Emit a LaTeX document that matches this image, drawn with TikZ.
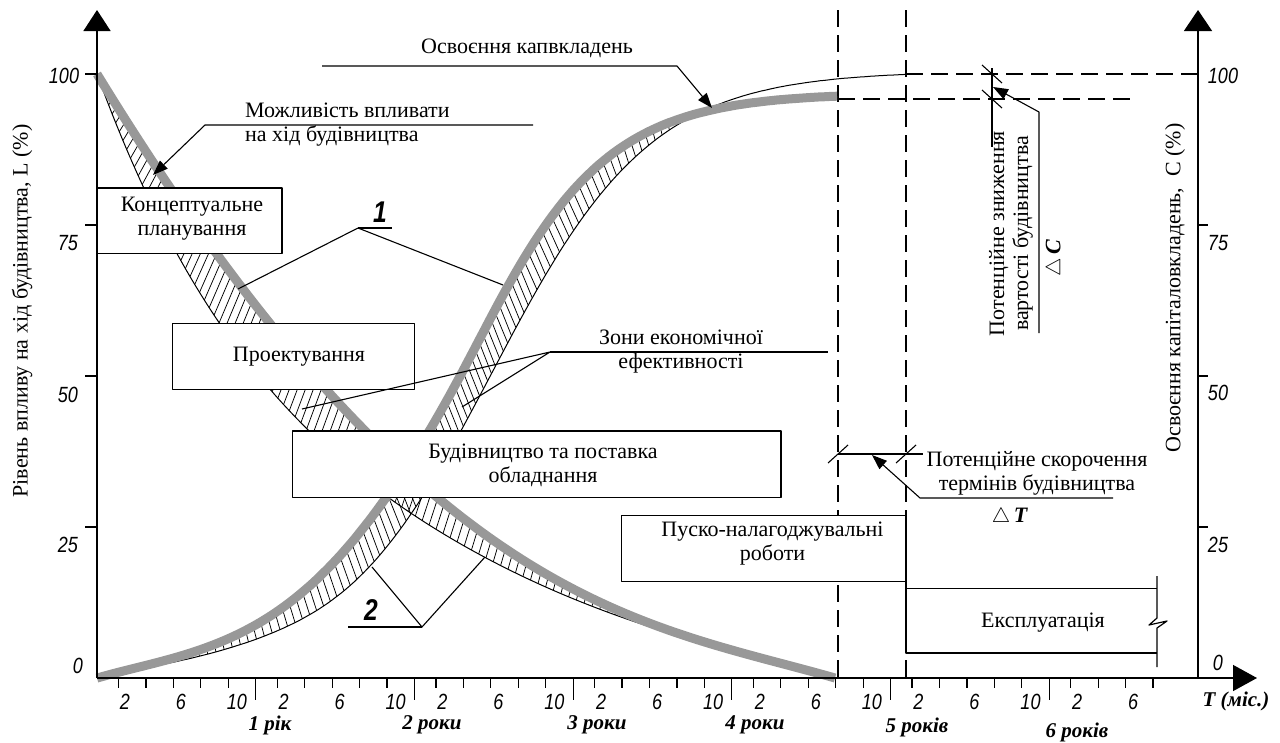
\documentclass[tikz,border=0pt]{standalone}
\usepackage{fontspec}
\setmainfont{Liberation Serif}
\newfontfamily\cadfont[FakeStretch=0.82]{Liberation Sans}
\usetikzlibrary{arrows.meta}
\definecolor{curvegray}{RGB}{152,152,152}

\newcommand\txtsize{\fontsize{22}{24}\selectfont}
\newcommand\axnumfont{\cadfont\itshape\fontsize{22}{24}\selectfont}
\newcommand\yrfont{\fontsize{21}{24}\selectfont\bfseries\itshape}
\newcommand\bignumfont{\cadfont\bfseries\itshape\fontsize{30}{32}\selectfont}

% ladder hatching between a grey curve #1 and a thin curve #2, x from #3 to #4
\newcommand\hatchstrip[4]{%
  \def\hx{#3}%
  \loop
    \pgfmathsetmacro\hm{#1(\hx+0.5)-#1(\hx-0.5)}%
    \pgfmathsetmacro\hv{#1(\hx)-#2(\hx)}%
    \ifdim\hv pt>1pt
      \pgfmathsetmacro\hs{0.55*(\hm)*(\hv)/(1+(\hm)*(\hm))}%
      \draw[hatchline] (\hx,{678-#1(\hx)}) -- ({\hx+\hs},{678-#2(\hx+\hs)});%
    \fi
    \pgfmathsetmacro\hx{\hx+8.5/sqrt(1+(\hm)*(\hm))}%
  \ifdim\hx pt<#4pt
  \repeat}

\begin{document}
\begin{tikzpicture}[x=1pt,y=-1pt,line join=round,
  declare function={
    lgs(\z)=1/(1+exp(min(max(-1*(\z),-9),9)));
    thh(\z)=2*lgs(2*(\z))-1;
    ulv(\x)=min(max((\x-97)/738,0),1);
    glv(\x)=604*(1-ulv(\x))*((1-ulv(\x))+0.35*ulv(\x)^4);
    tlv(\x)=glv(\x)*(1-1.35*ulv(\x)*(1-ulv(\x))*(1-ulv(\x)));
    kgr(\x)=0.0126+0.0011*thh((\x-455)/60);
    gcv(\x)=585*lgs(kgr(\x)*(\x-455))-9.4*exp(max(-1*(\x-97)/50,-9));
    kth(\x)=0.0125-0.00075*(1-thh((\x-300)/80));
    tcv(\x)=607*lgs(kth(\x)*(\x-491))-7.8*exp(max(-1*(\x-97)/50,-9));
  },
  axisline/.style={line width=1.4pt},
  tickline/.style={line width=1.2pt},
  frame/.style={draw,line width=1.2pt,fill=white,inner sep=0pt},
  boxline/.style={line width=1.2pt},
  leader/.style={line width=1.1pt},
  thincurve/.style={line width=1pt},
  graycurve/.style={line width=9pt,color=curvegray},
  hatchline/.style={line width=0.75pt},
  dashline/.style={line width=1.1pt,dash pattern=on 17pt off 8pt},
  tip/.style={-{Triangle[length=15pt,width=11pt]}},
  txt/.style={font=\txtsize,align=center,inner sep=0pt},
  axnum/.style={font=\axnumfont,inner sep=0pt},
  yrlbl/.style={font=\yrfont,inner sep=0pt},
  bignum/.style={font=\bignumfont,inner sep=0pt},
]
\useasboundingbox (0,0) rectangle (1280,742);

% dashed guide lines
\coordinate (d1top) at (838,10);  \coordinate (d1bot) at (838,678);
\coordinate (d2top) at (906,10);  \coordinate (d2bot) at (906,678);
\draw[dashline] (d1top) -- (d1bot);
\draw[dashline] (d2top) -- (d2bot);
\coordinate (full0) at (906,74);  \coordinate (full1) at (1198,74);
\coordinate (real0) at (838,99);  \coordinate (real1) at (1130,99);
\draw[dashline] (full0) -- (full1);
\draw[dashline] (real0) -- (real1);

% hatched zones between the curves
\hatchstrip{glv}{tlv}{97}{832}
\hatchstrip{gcv}{tcv}{100}{730}

% thin (baseline) curves
\draw[thincurve] plot[domain=97:835,samples=150] (\x,{678-tlv(\x)});
\coordinate (tailA) at (835,677); \coordinate (tailB) at (897,677);
\draw[thincurve] (tailA) -- (tailB);
\draw[thincurve] plot[domain=97:906,samples=180] (\x,{678-tcv(\x)});

% grey (improved) curves
\draw[graycurve] plot[domain=97:835,samples=150] (\x,{678-glv(\x)});
\draw[graycurve] plot[domain=97:837,samples=150] (\x,{678-gcv(\x)});

% stage boxes
\node[frame,minimum width=185pt,minimum height=65.5pt] (konc) at (189.5,220.75) {};
\node[txt] (konct) at (192,219) {Концептуальне\\планування};
\node[frame,minimum width=241.6pt,minimum height=66pt] (proj) at (293.5,356.3) {};
\node[txt] (projt) at (299,357) {Проектування};
\node[frame,minimum width=488.3pt,minimum height=66.3pt] (build) at (536.85,464.15) {};
\node[txt] (buildt) at (543,465) {Будівництво та поставка\\обладнання};
\node[frame,minimum width=284.3pt,minimum height=66pt] (pusk) at (763.85,548.7) {};
\node[txt] (puskt) at (772.5,543.5) {Пуско-налагоджувальні\\роботи};
\coordinate (ek1) at (906,515.7); \coordinate (ek2) at (906,653);
\coordinate (ek3) at (1157,653);  \coordinate (ek4) at (906,588.3);
\coordinate (ek5) at (1157,588.3);
\coordinate (ekb0) at (1157,576); \coordinate (ekb1) at (1157,667);
\draw[boxline] (ek1) -- (ek2) -- (ek3);
\draw[boxline] (ek4) -- (ek5);
\draw[boxline] (ekb0) -- (1157,618) -- (1149,625) -- (1167,621) -- (1157,628) -- (ekb1);
\node[txt] (ekt) at (1043,623) {Експлуатація};

% axes
\coordinate (O) at (97,678);    \coordinate (Ltop) at (97,10);
\coordinate (R0) at (1198,678); \coordinate (Rtop) at (1198,10);
\coordinate (Xend) at (1257,678);
\draw[axisline,-{Triangle[length=21pt,width=27pt]}] (O) -- (Ltop);
\draw[axisline,-{Triangle[length=21pt,width=28pt]}] (R0) -- (Rtop);
\draw[axisline,-{Triangle[length=24pt,width=26pt]}] (O) -- (Xend);

% vertical scale ticks and numbers
\foreach \yv in {74,225,376,527} \draw[tickline] (85,\yv) -- (97,\yv);
\foreach \yv in {225,376,527} \draw[tickline] (1198,\yv) -- (1208,\yv);
\node[axnum] at (64,76) {100};
\node[axnum] at (68,243) {75};
\node[axnum] at (68,395) {50};
\node[axnum] at (68,545) {25};
\node[axnum] at (78,666) {0};
\node[axnum] at (1223,76) {100};
\node[axnum] at (1218,243) {75};
\node[axnum] at (1218,393) {50};
\node[axnum] at (1218,545) {25};
\node[axnum] at (1218,663) {0};

% time scale
\foreach \Y/\kmax in {0/4,1/4,2/4,3/4,4/4,5/4,6/3} {
  \pgfmathsetmacro\ys{97+158.7*\Y}
  \foreach \k in {0,...,\kmax} \draw[tickline] ({\ys+21.5+27.45*\k},678) -- ({\ys+21.5+27.45*\k},688);
}
\foreach \Y in {1,...,6} \draw[tickline] ({97+158.7*\Y},678) -- ({97+158.7*\Y},700);
\foreach \Y in {0,...,5} {
  \pgfmathsetmacro\ys{97+158.7*\Y}
  \node[axnum] at ({\ys+28},702) {2};
  \node[axnum] at ({\ys+84},702) {6};
  \node[axnum] at ({\ys+140},702) {10};
}
\node[axnum] at ({97+158.7*6+28},702) {2};
\node[axnum] at ({97+158.7*6+84},702) {6};
\node[yrlbl] at (270,725) {1 рік};
\node[yrlbl] at (432,725) {2 роки};
\node[yrlbl] at (597,725) {3 роки};
\node[yrlbl] at (755,725) {4 роки};
\node[yrlbl] at (917,727) {5 років};
\node[yrlbl] at (1077,732) {6 років};
\node[yrlbl] at (1236,701) {T (міс.)};

% axis titles
\node[txt,rotate=90] at (22,311) {Рівень впливу на хід будівництва, L (\%)};
\node[txt,rotate=90] at (1175,288) {Освоєння капіталовкладень,\ \ С (\%)};

% callout: influence curve
\coordinate (mozA) at (533,125); \coordinate (mozB) at (205,125); \coordinate (mozT) at (153,175);
\draw[leader,tip] (mozA) -- (mozB) -- (mozT);
\node[txt,anchor=west,align=left] at (245,125) {Можливість впливати\\на хід будівництва};

% callout: investment curve
\coordinate (osvA) at (322,66); \coordinate (osvB) at (677,66); \coordinate (osvT) at (712,108);
\draw[leader,tip] (osvA) -- (osvB) -- (osvT);
\node[txt] at (527,48) {Освоєння капвкладень};

% callout 1
\coordinate (oneV) at (358,228); \coordinate (oneU) at (392,228);
\coordinate (oneA) at (238,289); \coordinate (oneB) at (503,285);
\draw[leader] (oneA) -- (oneV) -- (oneB);
\draw[leader] (oneV) -- (oneU);
\node[bignum] at (380,212) {1};

% callout 2
\coordinate (twoV) at (422,627); \coordinate (twoU) at (348,627);
\coordinate (twoA) at (372,567); \coordinate (twoB) at (485,557);
\draw[leader] (twoA) -- (twoV) -- (twoB);
\draw[leader] (twoV) -- (twoU);
\node[bignum] at (371,610) {2};

% callout: zones of efficiency
\coordinate (zonV) at (550,352); \coordinate (zonE) at (828,352);
\coordinate (zonA) at (302,409); \coordinate (zonB) at (462,407);
\draw[leader] (zonA) -- (zonV) -- (zonB);
\draw[leader] (zonV) -- (zonE);
\node[txt] at (681,351.5) {Зони економічної\\ефективності};

% time reduction dimension
\coordinate (dtA) at (838,454); \coordinate (dtB) at (923,454);
\draw[leader] (dtA) -- (dtB);
\draw[leader] (828,463) -- (848,445);
\draw[leader] (896,463) -- (916,445);
\coordinate (dtS1) at (1113,498); \coordinate (dtS0) at (920,498); \coordinate (dtT) at (872,455);
\draw[leader,tip] (dtS1) -- (dtS0) -- (dtT);
\node[txt] at (1037,473.5) {Потенційне скорочення\\термінів будівництва};
\node[txt] at (1010,517) {$\triangle$\,\textbf{\textit{T}}};

% cost reduction dimension
\coordinate (dcA) at (992,68); \coordinate (dcB) at (992,147);
\draw[leader] (dcA) -- (dcB);
\draw[leader] (982,65) -- (1002,83);
\draw[leader] (982,90) -- (1002,108);
\coordinate (dcS1) at (1039,333); \coordinate (dcS0) at (1039,112); \coordinate (dcT) at (993,87);
\draw[leader,tip] (dcS1) -- (dcS0) -- (dcT);
\node[txt,rotate=90] at (1011,233.5) {Потенційне зниження\\вартості будівництва};
\node[txt,rotate=90] at (1055,258) {$\triangle$\,\textbf{\textit{C}}};
\end{tikzpicture}
\end{document}
